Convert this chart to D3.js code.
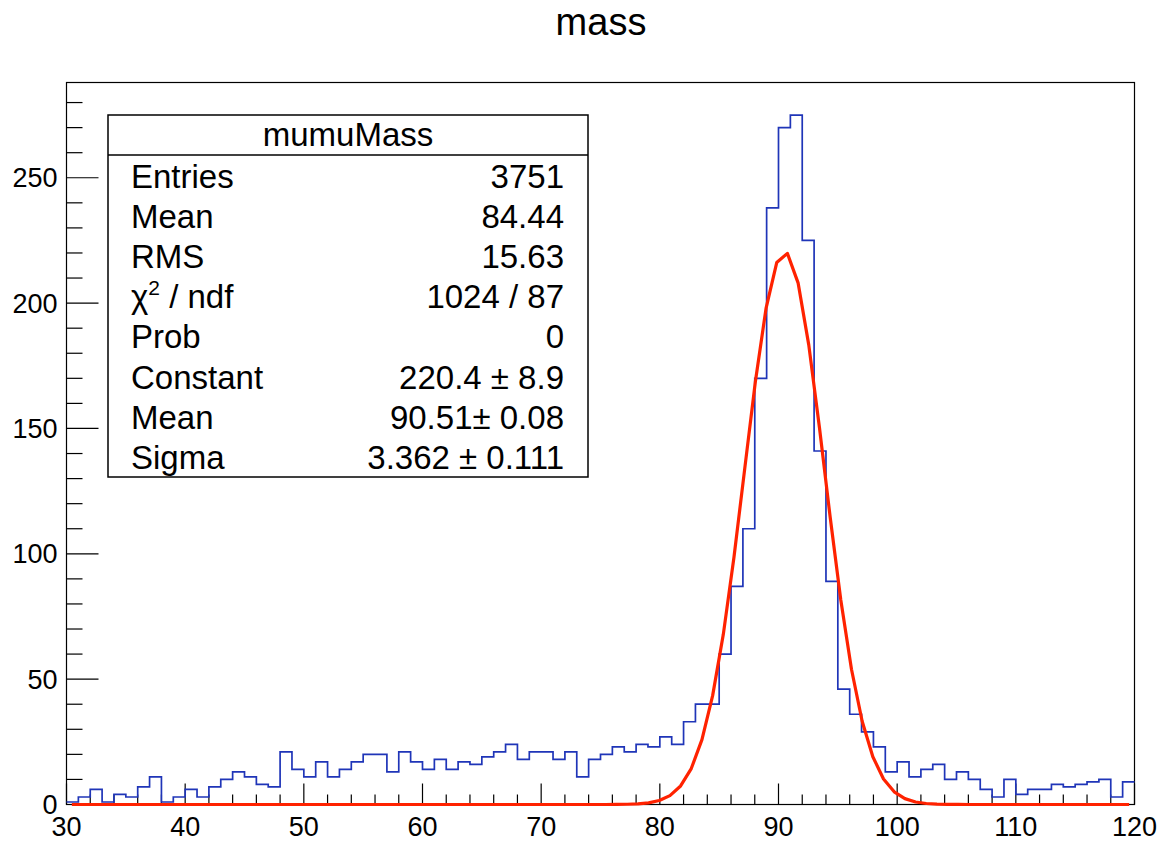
<!DOCTYPE html>
<html>
<head>
<meta charset="utf-8">
<script src="https://cdn.jsdelivr.net/npm/d3@7"></script>
<style>
  body { margin: 0; background: #fff; }
  svg text { font-family: "Liberation Sans", Arial, Helvetica, sans-serif; fill: #000; }
</style>
</head>
<body>
<div id="chart"></div>
<script>
// mumuMass histogram, 1 GeV bins from 30 to 120
const binLow = 30;
const binWidth = 1;
const counts = [
  1, 3, 6, 1, 4, 3, 7, 11, 1, 3,
  6, 3, 7, 10, 13, 11, 8, 7, 21, 14,
  11, 17, 11, 14, 17, 20, 20, 13, 21, 17,
  14, 18, 14, 17, 16, 19, 21, 24, 18, 21,
  21, 18, 21, 11, 18, 20, 23, 21, 24, 23,
  27, 24, 33, 40, 40, 60, 87, 110, 170, 238,
  270, 275, 225, 141, 89, 46, 36, 29, 23, 13,
  17, 11, 14, 16, 10, 13, 10, 6, 3, 10,
  4, 6, 6, 8, 7, 8, 9, 10, 3, 9
];

// gaus fit parameters (from the stats box)
const fitConstant = 220.4;
const fitMean = 90.51;
const fitSigma = 3.362;

const xTicks = [30, 40, 50, 60, 70, 80, 90, 100, 110, 120];
const yTicks = [0, 50, 100, 150, 200, 250];

const statLabels = ["Entries", "Mean", "RMS", "chi2", "Prob", "Constant", "Mean", "Sigma"];
const statValues = ["3751", "84.44", "15.63", "1024 / 87", "0", "220.4 \u00b1 8.9", "90.51\u00b1 0.08", "3.362 \u00b1 0.111"];

const drawChart = () => {
  const width = 1168;
  const height = 841;
  const left = 66.5, right = 1134.5, top = 82.5, bottom = 804.5;

  const xScale = d3.scaleLinear().domain([30, 120]).range([left, right]);
  const yScale = d3.scaleLinear().domain([0, 288]).range([bottom, top]);

  const svg = d3.select("#chart")
                .append("svg")
                .attr("width", width)
                .attr("height", height);

  // title
  svg.append("text")
     .attr("x", 601)
     .attr("y", 35)
     .attr("text-anchor", "middle")
     .style("font-size", "38px")
     .text("mass");

  // frame
  svg.append("rect")
     .attr("x", left).attr("y", top)
     .attr("width", right - left).attr("height", bottom - top)
     .attr("fill", "none").attr("stroke", "#000").attr("stroke-width", 1.2);

  // y ticks
  const yMinor = d3.range(0, 281, 10);
  svg.selectAll(".ytick")
     .data(yMinor)
     .enter()
     .append("line")
     .attr("x1", left)
     .attr("x2", (d) => left + (d % 50 === 0 ? 32 : 16))
     .attr("y1", (d) => yScale(d))
     .attr("y2", (d) => yScale(d))
     .attr("stroke", "#000").attr("stroke-width", 1.2);

  svg.selectAll(".ylab")
     .data(yTicks)
     .enter()
     .append("text")
     .attr("x", left - 9)
     .attr("y", (d) => yScale(d) + 9.5)
     .attr("text-anchor", "end")
     .style("font-size", "27px")
     .text((d) => d);

  // x ticks
  const xMinor = d3.range(30, 121, 2);
  svg.selectAll(".xtick")
     .data(xMinor)
     .enter()
     .append("line")
     .attr("x1", (d) => xScale(d))
     .attr("x2", (d) => xScale(d))
     .attr("y1", bottom)
     .attr("y2", (d) => bottom - (d % 10 === 0 ? 21 : 10))
     .attr("stroke", "#000").attr("stroke-width", 1.2);

  svg.selectAll(".xlab")
     .data(xTicks)
     .enter()
     .append("text")
     .attr("x", (d) => xScale(d))
     .attr("y", 836)
     .attr("text-anchor", "middle")
     .style("font-size", "27px")
     .text((d) => d);

  // histogram outline
  const steps = counts.map((c, i) => [binLow + i * binWidth, c]);
  steps.push([binLow + counts.length * binWidth, counts[counts.length - 1]]);
  const histLine = d3.line()
                     .x((d) => xScale(d[0]))
                     .y((d) => yScale(d[1]))
                     .curve(d3.curveStepAfter);
  svg.append("path")
     .attr("d", histLine(steps))
     .attr("fill", "none")
     .attr("stroke", "#1f35b8")
     .attr("stroke-width", 1.7);

  // gaussian fit, 100 points over the histogram range
  const fitX = d3.range(100).map((i) => 30 + (i + 0.5) * 0.9);
  const fitPts = fitX.map((x) => [x, fitConstant * Math.exp(-0.5 * Math.pow((x - fitMean) / fitSigma, 2))]);
  svg.append("path")
     .attr("d", d3.line().x((d) => xScale(d[0])).y((d) => yScale(d[1]))(fitPts))
     .attr("fill", "none")
     .attr("stroke", "#ff2200")
     .attr("stroke-width", 3.2)
     .attr("stroke-linejoin", "round");

  // stats box
  const bx = 108, by = 115, bw = 480, bh = 362;
  const stats = svg.append("g");
  stats.append("rect")
       .attr("x", bx).attr("y", by).attr("width", bw).attr("height", bh)
       .attr("fill", "#fff").attr("stroke", "#000").attr("stroke-width", 1.5);
  stats.append("line")
       .attr("x1", bx).attr("x2", bx + bw)
       .attr("y1", by + 40).attr("y2", by + 40)
       .attr("stroke", "#000").attr("stroke-width", 1.5);
  stats.append("text")
       .attr("x", bx + bw / 2)
       .attr("y", 146)
       .attr("text-anchor", "middle")
       .style("font-size", "33px")
       .text("mumuMass");

  statLabels.forEach((lab, i) => {
    const y = 188 + i * 40.1;
    const t = stats.append("text")
                   .attr("x", 131)
                   .attr("y", y)
                   .style("font-size", "33px");
    if (lab === "chi2") {
      t.append("tspan").text("\u03c7");
      t.append("tspan").attr("dy", -13).style("font-size", "21px").text("2");
      t.append("tspan").attr("dy", 13).text(" / ndf");
    } else {
      t.text(lab);
    }
    stats.append("text")
         .attr("x", 564)
         .attr("y", y)
         .attr("text-anchor", "end")
         .style("font-size", "33px")
         .text(statValues[i]);
  });
};

drawChart();
</script>
</body>
</html>
